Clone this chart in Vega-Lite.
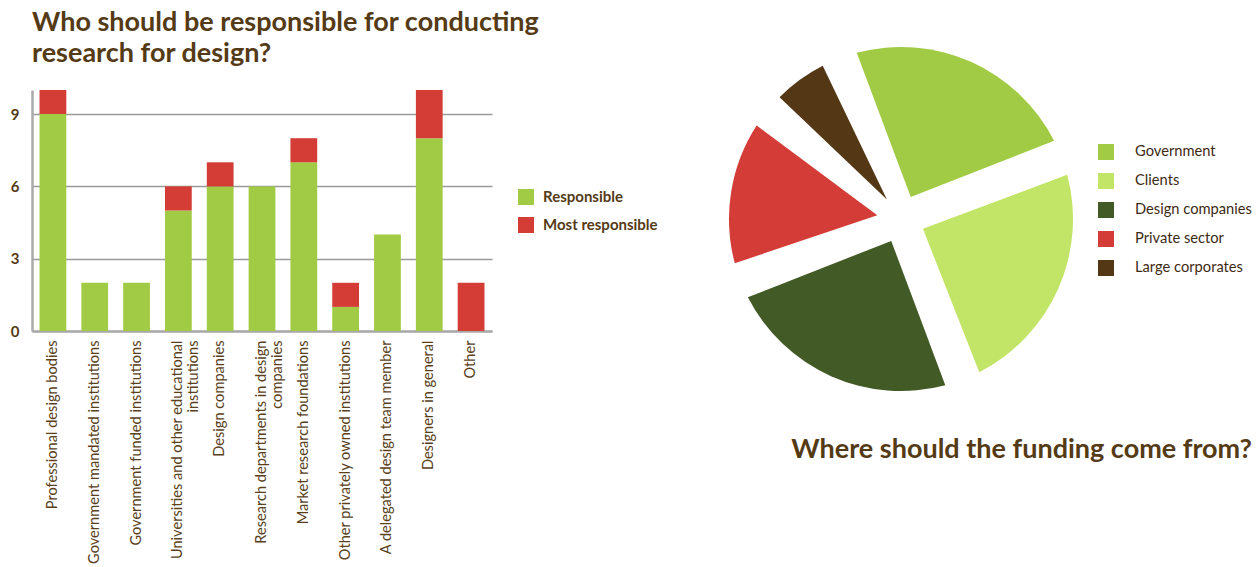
{
  "$schema": "https://vega.github.io/schema/vega-lite/v6.json",
  "background": "white",
  "padding": {"left": 10, "top": 9, "right": 0, "bottom": 0},
  "spacing": 69,
  "config": {"view": {"stroke": null}, "font": "Lato"},
  "resolve": {"scale": {"color": "independent"}, "legend": {"color": "independent"}},
  "hconcat": [
    {
      "title": {
        "text": ["Who should be responsible for conducting", "research for design?"],
        "anchor": "start",
        "frame": "group",
        "fontSize": 27,
        "fontWeight": "bold",
        "font": "Lato",
        "color": "#553a16",
        "lineHeight": 31,
        "offset": 22
      },
      "width": 460,
      "height": 241,
      "data": {
        "values": [
          {"category": "Professional design bodies", "type": "Responsible", "count": 9},
          {"category": "Professional design bodies", "type": "Most responsible", "count": 1},
          {"category": "Government mandated institutions", "type": "Responsible", "count": 2},
          {"category": "Government mandated institutions", "type": "Most responsible", "count": 0},
          {"category": "Government funded institutions", "type": "Responsible", "count": 2},
          {"category": "Government funded institutions", "type": "Most responsible", "count": 0},
          {"category": "Universities and other educational institutions", "type": "Responsible", "count": 5},
          {"category": "Universities and other educational institutions", "type": "Most responsible", "count": 1},
          {"category": "Design companies", "type": "Responsible", "count": 6},
          {"category": "Design companies", "type": "Most responsible", "count": 1},
          {"category": "Research departments in design companies", "type": "Responsible", "count": 6},
          {"category": "Research departments in design companies", "type": "Most responsible", "count": 0},
          {"category": "Market research foundations", "type": "Responsible", "count": 7},
          {"category": "Market research foundations", "type": "Most responsible", "count": 1},
          {"category": "Other privately owned institutions", "type": "Responsible", "count": 1},
          {"category": "Other privately owned institutions", "type": "Most responsible", "count": 1},
          {"category": "A delegated design team member", "type": "Responsible", "count": 4},
          {"category": "A delegated design team member", "type": "Most responsible", "count": 0},
          {"category": "Designers in general", "type": "Responsible", "count": 8},
          {"category": "Designers in general", "type": "Most responsible", "count": 2},
          {"category": "Other", "type": "Responsible", "count": 0},
          {"category": "Other", "type": "Most responsible", "count": 2}
        ]
      },
      "mark": {"type": "bar"},
      "encoding": {
        "x": {
          "field": "category",
          "type": "nominal",
          "sort": null,
          "scale": {"paddingInner": 0.36, "paddingOuter": 0.18},
          "axis": {
            "title": null,
            "labelAngle": -90,
            "labelFont": "Lato",
            "labelFontSize": 14.6,
            "labelColor": "#5a3f1c",
            "labelLimit": 400,
            "labelPadding": 9,
            "labelLineHeight": 16,
            "ticks": false,
            "tickSize": 0,
            "domainColor": "#aaaaaa",
            "domainWidth": 2.5,
            "labelExpr": "datum.value == 'Universities and other educational institutions' ? ['Universities and other educational', 'institutions'] : datum.value == 'Research departments in design companies' ? ['Research departments in design', 'companies'] : datum.label"
          }
        },
        "y": {
          "field": "count",
          "type": "quantitative",
          "stack": "zero",
          "scale": {"domain": [0, 10], "nice": false},
          "axis": {
            "title": null,
            "values": [0, 3, 6, 9],
            "grid": true,
            "gridColor": "#9a9a9a",
            "gridWidth": 1.5,
            "ticks": false,
            "tickSize": 0,
            "domainColor": "#aaaaaa",
            "domainWidth": 2.5,
            "labelFont": "Lato",
            "labelFontWeight": "bold",
            "labelFontSize": 15,
            "labelColor": "#553a16",
            "labelPadding": 13
          }
        },
        "color": {
          "field": "type",
          "type": "nominal",
          "scale": {"domain": ["Responsible", "Most responsible"], "range": ["#a1cb44", "#d43c36"]},
          "legend": {
            "title": null,
            "orient": "none",
            "legendX": 486,
            "legendY": 99,
            "symbolType": "square",
            "symbolSize": 256,
            "symbolStrokeWidth": 0,
            "labelFont": "Lato",
            "labelFontSize": 15,
            "labelFontWeight": "bold",
            "labelColor": "#553a16",
            "labelOffset": 9,
            "rowPadding": 12
          }
        },
        "order": {"field": "type", "sort": "descending"}
      }
    },
    {
      "title": {
        "text": "Where should the funding come from?",
        "orient": "bottom",
        "anchor": "end",
        "frame": "bounds",
        "fontSize": 27,
        "fontWeight": "bold",
        "font": "Lato",
        "color": "#553a16",
        "offset": 46
      },
      "width": 348,
      "height": 258,
      "data": {
        "values": [
          {"source": "Government", "value": 3},
          {"source": "Clients", "value": 3},
          {"source": "Design companies", "value": 3},
          {"source": "Private sector", "value": 2},
          {"source": "Large corporates", "value": 1}
        ]
      },
      "transform": [{"window": [{"op": "row_number", "as": "idx"}]}],
      "mark": {"type": "arc", "innerRadius": 24, "outerRadius": 172, "padAngle": 0.21},
      "encoding": {
        "theta": {
          "field": "value",
          "type": "quantitative",
          "stack": true,
          "scale": {"range": [-0.3665, 5.9167]}
        },
        "order": {"field": "idx", "type": "quantitative"},
        "color": {
          "field": "source",
          "type": "nominal",
          "sort": null,
          "scale": {
            "domain": ["Government", "Clients", "Design companies", "Private sector", "Large corporates"],
            "range": ["#a2cb45", "#c2e467", "#425a26", "#d33c37", "#543816"]
          },
          "legend": {
            "title": null,
            "orient": "none",
            "legendX": 371,
            "legendY": 54,
            "symbolType": "square",
            "symbolSize": 256,
            "symbolStrokeWidth": 0,
            "labelFont": "Lato",
            "labelFontSize": 14.7,
            "labelColor": "#3e2a12",
            "labelOffset": 21,
            "rowPadding": 13
          }
        }
      }
    }
  ]
}
